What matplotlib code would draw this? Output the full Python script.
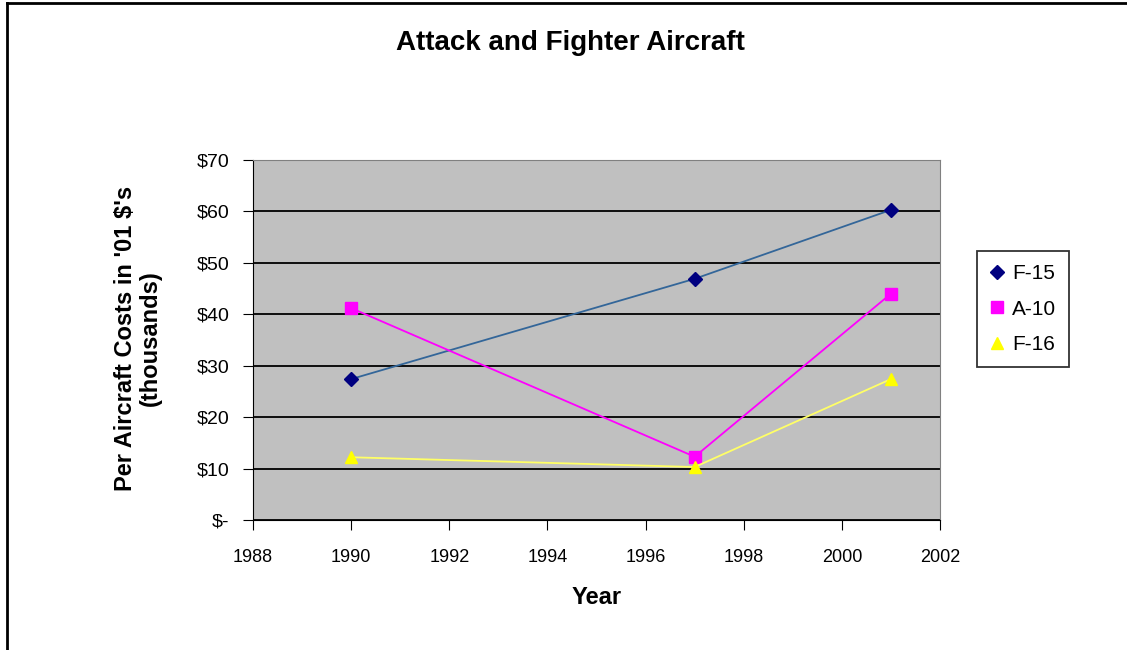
import matplotlib
matplotlib.use("Agg")
import matplotlib.pyplot as plt
from matplotlib.lines import Line2D
from matplotlib.ticker import FuncFormatter

years = [1990, 1997, 2001]
f15 = [27.4, 46.9, 60.3]
a10 = [41.2, 12.3, 44.0]
f16 = [12.2, 10.3, 27.4]
series_names = ["F-15", "A-10", "F-16"]
x_ticks = [1988, 1990, 1992, 1994, 1996, 1998, 2000, 2002]
y_ticks = [0, 10, 20, 30, 40, 50, 60, 70]

plt.rcParams['font.family'] = ['Liberation Sans', 'DejaVu Sans']

fig = plt.figure(figsize=(11.27, 6.5), dpi=100)
ax = fig.add_axes([253/1127, 1-520/650, (940-253)/1127, (520-160)/650])
ax.set_facecolor('#C0C0C0')

ax.plot(years, f15, color='#336699', lw=1.3, marker='D', ms=7, mfc='#000080', mec='#000080', label=series_names[0], zorder=3)
ax.plot(years, a10, color='#FF00FF', lw=1.3, marker='s', ms=8, mfc='#FF00FF', mec='#FF00FF', label=series_names[1], zorder=3)
ax.plot(years, f16, color='#FFFF66', lw=1.3, marker='^', ms=9, mfc='#FFFF00', mec='#FFFF00', label=series_names[2], zorder=3)

ax.set_xlim(1988, 2002)
ax.set_ylim(0, 70)
ax.set_xticks(x_ticks)
ax.set_yticks(y_ticks)
ax.yaxis.set_major_formatter(FuncFormatter(lambda v, p: "$-" if v == 0 else f"${int(v)}"))
ax.grid(axis='y', color='black', lw=1.3, zorder=1)
ax.set_axisbelow(True)
for s in ['top', 'right']:
    ax.spines[s].set_color('#808080')
for s in ['left', 'bottom']:
    ax.spines[s].set_color('black')
ax.tick_params(axis='both', direction='out', length=7, colors='black')
ax.tick_params(axis='x', labelsize=13, pad=14)
ax.tick_params(axis='y', labelsize=14, pad=10)

fig.text(570/1127, 1-43/650, "Attack and Fighter Aircraft", fontsize=20, fontweight='bold',
         ha='center', va='center')
fig.text(597/1127, 1-597/650, "Year", fontsize=17, fontweight='bold', ha='center', va='center')
fig.text(138/1127, 1-338/650, "Per Aircraft Costs in '01 $'s\n(thousands)", fontsize=17,
         fontweight='bold', ha='center', va='center', rotation=90, multialignment='center',
         linespacing=1.15)

leg = ax.legend(loc='center left', bbox_to_anchor=(977/1127, 1-309/650), bbox_transform=fig.transFigure,
                frameon=True, fancybox=False, edgecolor='black', fontsize=15,
                handlelength=0.7, handletextpad=0.4, borderpad=0.6, labelspacing=0.8,
                borderaxespad=0)
for h in leg.get_lines():
    h.set_linestyle('None')
leg.get_frame().set_linewidth(1.3)

fig.add_artist(Line2D([7/1127, 7/1127], [0, 1-3/650], transform=fig.transFigure, color='black', lw=2))
fig.add_artist(Line2D([7/1127, 1], [1-3/650, 1-3/650], transform=fig.transFigure, color='black', lw=2))

fig.savefig("out.png", dpi=100)
